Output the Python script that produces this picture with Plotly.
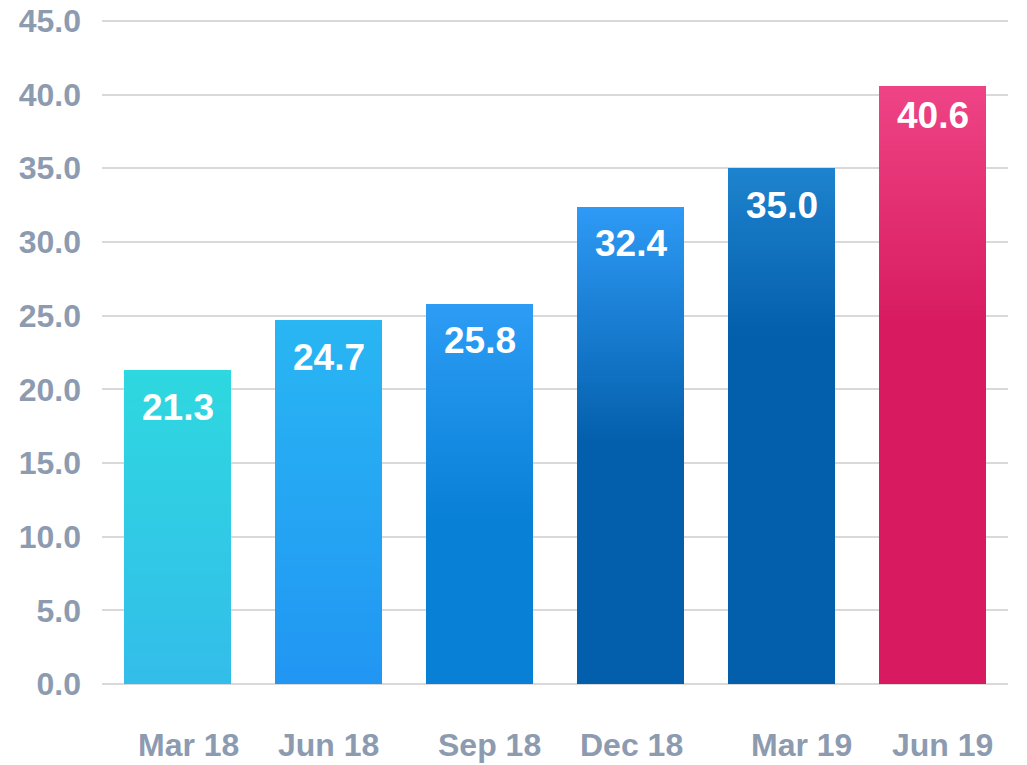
import plotly.graph_objects as go

categories = ["Mar 18", "Jun 18", "Sep 18", "Dec 18", "Mar 19", "Jun 19"]
values = [21.3, 24.7, 25.8, 32.4, 35.0, 40.6]
y_ticks = [0, 5, 10, 15, 20, 25, 30, 35, 40, 45]

# gradient stops per bar: (fraction from bottom, colour)
gradients = [
    [(0.0, "#33BDEA"), (1.0, "#2ED8DF")],
    [(0.0, "#2196F3"), (1.0, "#29B6F3")],
    [(0.0, "#0880D6"), (0.42, "#0880D6"), (1.0, "#2D9CF5")],
    [(0.0, "#035EAB"), (0.50, "#035EAB"), (1.0, "#2E9BF6")],
    [(0.0, "#035EAB"), (0.67, "#035EAB"), (1.0, "#1E83CE")],
    [(0.0, "#D81B60"), (0.60, "#D81B60"), (1.0, "#EE4485")],
]
label_shift = [11, 0, 10, 1, 20, 10]      # x-label horizontal offsets (px)
value_shift = [-37, -37, -37, -37, -37, -30]  # value label vertical offsets (px)

N_SLICES = 120
FONT = "Liberation Sans, Arial, sans-serif"
GREY = "#8C9BB0"


def hex2rgb(h):
    h = h.lstrip("#")
    return tuple(int(h[i:i + 2], 16) for i in (0, 2, 4))


def interp(stops, f):
    for (f0, c0), (f1, c1) in zip(stops[:-1], stops[1:]):
        if f0 <= f <= f1:
            t = 0 if f1 == f0 else (f - f0) / (f1 - f0)
            a, b = hex2rgb(c0), hex2rgb(c1)
            return "rgb(%d,%d,%d)" % tuple(round(a[i] + (b[i] - a[i]) * t) for i in range(3))
    return stops[-1][1]


xs = list(range(len(categories)))
fig = go.Figure()
for k in range(N_SLICES):
    frac = (k + 0.5) / N_SLICES
    fig.add_trace(go.Bar(
        x=xs,
        y=[v / N_SLICES for v in values],
        marker=dict(color=[interp(g, frac) for g in gradients], line=dict(width=0)),
        hoverinfo="skip",
        showlegend=False,
    ))

annotations = []
for i, (c, v) in enumerate(zip(categories, values)):
    annotations.append(dict(
        x=i, y=v, xref="x", yref="y", text="%.1f" % v, showarrow=False,
        yanchor="middle", yshift=value_shift[i],
        font=dict(family=FONT, size=37, color="white", weight="bold"),
    ))
    annotations.append(dict(
        x=i, y=0, xref="x", yref="y", text=c, showarrow=False,
        yanchor="middle", yshift=-61, xshift=label_shift[i],
        font=dict(family=FONT, size=32, color=GREY, weight="bold"),
    ))

fig.update_layout(
    width=1019, height=757,
    margin=dict(l=94, r=19, t=10, b=81, autoexpand=False),
    paper_bgcolor="white", plot_bgcolor="white",
    barmode="stack", bargap=0.29,
    annotations=annotations,
    xaxis=dict(range=[-0.5, 5.5], showticklabels=False, showgrid=False,
               zeroline=False, fixedrange=True, automargin=False),
    yaxis=dict(range=[0, 45.2], tickvals=y_ticks,
               ticktext=["%.1f" % t for t in y_ticks],
               showgrid=True, gridcolor="#D9D9D9", gridwidth=2,
               zeroline=True, zerolinecolor="#D9D9D9", zerolinewidth=2,
               ticks="", ticklabelstandoff=20, automargin=False,
               ticklabeloverflow="allow",
               tickfont=dict(family=FONT, size=32, color=GREY, weight="bold"),
               fixedrange=True),
)

fig.write_html("out.html")
